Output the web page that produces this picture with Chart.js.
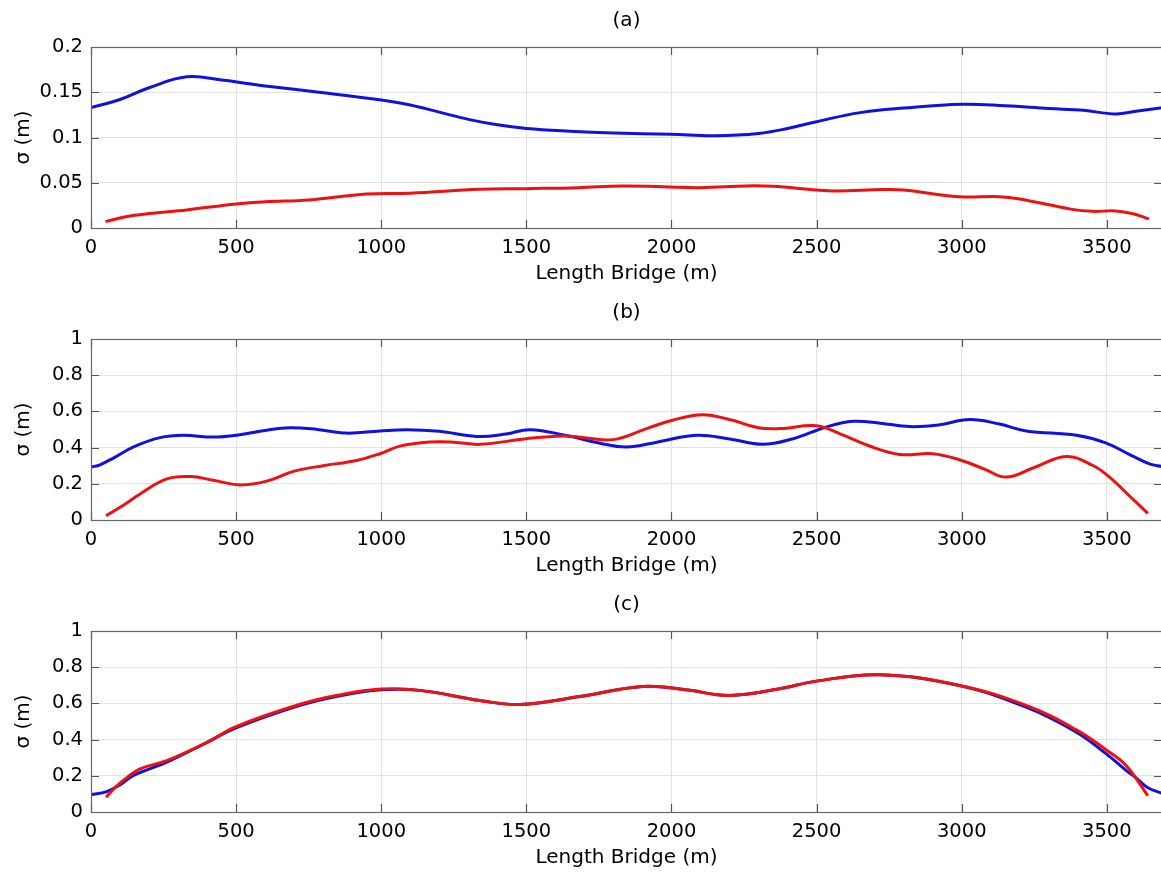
<!DOCTYPE html>
<html>
<head>
<meta charset="utf-8">
<script src="https://cdn.jsdelivr.net/npm/chart.js@4.4.1/dist/chart.umd.min.js"></script>
<style>
  html, body { margin: 0; padding: 0; background: #fff; }
  body { width: 1161px; height: 873px; overflow: hidden; position: relative; }
  .panel { position: absolute; left: 0; width: 1163px; height: 292px; }
</style>
</head>
<body>
<div class="panel" style="top:0px"><canvas id="chartA" width="1163" height="292"></canvas></div>
<div class="panel" style="top:292px"><canvas id="chartB" width="1163" height="292"></canvas></div>
<div class="panel" style="top:584px"><canvas id="chartC" width="1163" height="292"></canvas></div>
<script>
// axis ticks
const xTicks = [0, 500, 1000, 1500, 2000, 2500, 3000, 3500];
const yTicksA = [0, 0.05, 0.1, 0.15, 0.2];
const yTicksBC = [0, 0.2, 0.4, 0.6, 0.8, 1];
const xMax = 3690;

// panel (a)
const posBlueA = [0, 100, 200, 330, 450, 600, 800, 1000, 1100, 1200, 1300, 1400, 1500, 1650, 1800, 2000, 2150, 2300, 2400, 2500, 2650, 2800, 3000, 3150, 3300, 3420, 3530, 3600, 3690];
const sigBlueA = [0.133, 0.142, 0.155, 0.167, 0.1635, 0.157, 0.1495, 0.1414, 0.136, 0.128, 0.120, 0.114, 0.110, 0.107, 0.105, 0.1035, 0.102, 0.1045, 0.110, 0.1175, 0.1275, 0.1325, 0.1367, 0.135, 0.132, 0.130, 0.126, 0.129, 0.133];
const posRedA = [50, 120, 200, 330, 500, 600, 750, 950, 1100, 1340, 1500, 1680, 1830, 1970, 2100, 2260, 2350, 2500, 2570, 2730, 2800, 2990, 3130, 3200, 3380, 3450, 3530, 3590, 3645];
const sigRedA = [0.007, 0.0125, 0.016, 0.020, 0.0265, 0.029, 0.031, 0.0376, 0.0385, 0.0427, 0.0435, 0.0446, 0.0465, 0.0455, 0.0446, 0.0465, 0.046, 0.042, 0.041, 0.0425, 0.042, 0.0346, 0.0346, 0.032, 0.0206, 0.0184, 0.0188, 0.0158, 0.010];

// panel (b)
const posBlueB = [0, 31, 80, 145, 238, 318, 421, 513, 600, 685, 780, 880, 995, 1087, 1200, 1328, 1430, 1512, 1638, 1750, 1845, 1950, 2085, 2200, 2314, 2419, 2534, 2626, 2720, 2821, 2920, 3027, 3130, 3222, 3395, 3498, 3580, 3647, 3690];
const sigBlueB = [0.292, 0.305, 0.345, 0.403, 0.455, 0.468, 0.458, 0.471, 0.495, 0.51, 0.50, 0.48, 0.492, 0.499, 0.49, 0.462, 0.475, 0.499, 0.467, 0.425, 0.403, 0.43, 0.468, 0.448, 0.418, 0.449, 0.514, 0.545, 0.535, 0.516, 0.525, 0.555, 0.53, 0.492, 0.468, 0.425, 0.36, 0.31, 0.296];
const posRedB = [52, 110, 169, 261, 341, 421, 513, 605, 700, 800, 915, 995, 1064, 1167, 1250, 1340, 1500, 1626, 1700, 1799, 1914, 2000, 2108, 2200, 2300, 2373, 2499, 2579, 2680, 2786, 2900, 2992, 3080, 3153, 3250, 3360, 3452, 3509, 3580, 3641];
const sigRedB = [0.024, 0.08, 0.144, 0.227, 0.24, 0.22, 0.194, 0.215, 0.27, 0.30, 0.329, 0.366, 0.408, 0.431, 0.43, 0.418, 0.449, 0.464, 0.455, 0.444, 0.505, 0.55, 0.582, 0.555, 0.51, 0.505, 0.521, 0.477, 0.41, 0.362, 0.366, 0.333, 0.28, 0.237, 0.29, 0.351, 0.301, 0.237, 0.13, 0.037];

// panel (c)
const posBlueC = [0, 54, 100, 145, 261, 400, 500, 720, 850, 1000, 1133, 1340, 1477, 1684, 1901, 2050, 2200, 2373, 2499, 2717, 2992, 3222, 3395, 3498, 3567, 3600, 3640, 3690];
const sigBlueC = [0.096, 0.113, 0.15, 0.201, 0.275, 0.385, 0.465, 0.589, 0.64, 0.675, 0.672, 0.616, 0.594, 0.638, 0.694, 0.675, 0.644, 0.681, 0.723, 0.758, 0.699, 0.579, 0.441, 0.321, 0.229, 0.19, 0.135, 0.103];
const posRedC = [52, 80, 110, 169, 261, 400, 500, 720, 850, 1000, 1133, 1340, 1477, 1684, 1901, 2050, 2200, 2373, 2499, 2717, 2992, 3222, 3395, 3498, 3567, 3641];
const sigRedC = [0.081, 0.13, 0.173, 0.238, 0.284, 0.385, 0.472, 0.595, 0.645, 0.679, 0.672, 0.616, 0.594, 0.638, 0.694, 0.675, 0.644, 0.681, 0.723, 0.758, 0.699, 0.589, 0.454, 0.343, 0.256, 0.09];

const FONT = "'DejaVu Sans', sans-serif";

function pairs(xs, ys) {
  return xs.map((x, i) => ({ x: x, y: ys[i] }));
}

function fmt(v) {
  return String(parseFloat(v.toFixed(2)));
}

// frame and inward tick marks like a matlab axes box
const frameTicks = {
  id: 'frameTicks',
  afterDatasetsDraw(chart) {
    const { ctx, chartArea: a, scales: { x, y } } = chart;
    ctx.save();
    ctx.strokeStyle = '#555';
    ctx.lineWidth = 1.2;
    ctx.beginPath();
    x.ticks.forEach(t => {
      const px = Math.round(x.getPixelForValue(t.value)) + 0.5;
      ctx.moveTo(px, a.bottom); ctx.lineTo(px, a.bottom - 8);
      ctx.moveTo(px, a.top); ctx.lineTo(px, a.top + 8);
    });
    y.ticks.forEach(t => {
      const py = Math.round(y.getPixelForValue(t.value)) + 0.5;
      ctx.moveTo(a.left, py); ctx.lineTo(a.left + 8, py);
      ctx.moveTo(a.right, py); ctx.lineTo(a.right - 8, py);
    });
    ctx.stroke();
    ctx.strokeStyle = '#666';
    ctx.strokeRect(Math.round(a.left) + 0.5, Math.round(a.top) + 0.5, Math.round(a.width), Math.round(a.height));
    ctx.restore();
  }
};

function makeChart(id, title, yTicks, yMax, blue, red) {
  const ctx = document.getElementById(id).getContext('2d');
  return new Chart(ctx, {
    type: 'line',
    data: {
      datasets: [
        { data: red, borderColor: '#ee1111', borderWidth: 3, pointRadius: 0, tension: 0.4, fill: false },
        { data: blue, borderColor: '#1010e0', borderWidth: 3, pointRadius: 0, tension: 0.4, fill: false }
      ]
    },
    plugins: [frameTicks],
    options: {
      responsive: false,
      animation: false,
      events: [],
      layout: { padding: { top: 0, right: 1, bottom: 0, left: 0 } },
      plugins: {
        legend: { display: false },
        tooltip: { enabled: false },
        title: {
          display: true,
          fullSize: false,
          text: title,
          color: '#000',
          font: { family: FONT, size: 20, weight: 'normal' },
          padding: { top: 9, bottom: 14 }
        }
      },
      scales: {
        x: {
          type: 'linear',
          min: 0,
          max: xMax,
          afterBuildTicks: s => { s.ticks = xTicks.map(v => ({ value: v })); },
          afterFit: s => { s.height = 64; },
          grid: { color: '#e2e2e2', lineWidth: 1, drawTicks: false },
          border: { display: false },
          ticks: {
            color: '#000',
            padding: 8,
            maxRotation: 0,
            font: { family: FONT, size: 19.5 },
            callback: v => String(v)
          },
          title: {
            display: true,
            text: 'Length Bridge (m)',
            color: '#000',
            font: { family: FONT, size: 20 },
            padding: { top: 0, bottom: 6 }
          }
        },
        y: {
          type: 'linear',
          min: 0,
          max: yMax,
          afterBuildTicks: s => { s.ticks = yTicks.map(v => ({ value: v })); },
          afterFit: s => { s.width = 91; },
          grid: { color: '#e2e2e2', lineWidth: 1, drawTicks: false },
          border: { display: false },
          ticks: {
            color: '#000',
            padding: 8,
            font: { family: FONT, size: 19.5 },
            callback: v => fmt(v)
          },
          title: {
            display: true,
            text: 'σ (m)',
            color: '#000',
            font: { family: FONT, size: 20 },
            padding: { top: 12, bottom: 0 }
          }
        }
      }
    }
  });
}

makeChart('chartA', '(a)', yTicksA, 0.2, pairs(posBlueA, sigBlueA), pairs(posRedA, sigRedA));
makeChart('chartB', '(b)', yTicksBC, 1, pairs(posBlueB, sigBlueB), pairs(posRedB, sigRedB));
makeChart('chartC', '(c)', yTicksBC, 1, pairs(posBlueC, sigBlueC), pairs(posRedC, sigRedC));
</script>
</body>
</html>
